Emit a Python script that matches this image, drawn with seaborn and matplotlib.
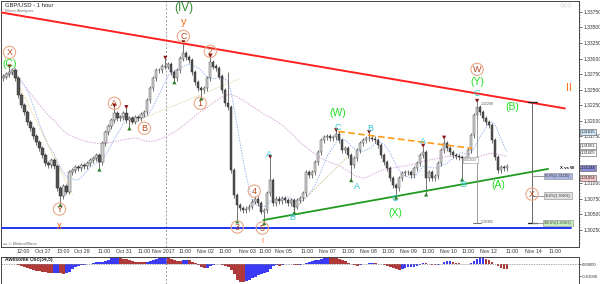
import numpy as np
import pandas as pd
import matplotlib
matplotlib.use("Agg")
import matplotlib.pyplot as plt
import seaborn as sns

# ---------------- data ----------------
closes = [
    1.3271, 1.3275, 1.3278, 1.3281, 1.3268, 1.3241, 1.3225, 1.3214, 1.3198, 1.3188,
    1.3175, 1.3166, 1.3156, 1.3145, 1.3132, 1.3129, 1.3137, 1.3127, 1.3092, 1.3079,
    1.3095, 1.3086, 1.3118, 1.3121, 1.3126, 1.3124, 1.3129, 1.3127, 1.3132, 1.3137,
    1.3140, 1.3145, 1.3134, 1.3164, 1.3182, 1.3191, 1.3201, 1.3212, 1.3204, 1.3206,
    1.3212, 1.3201, 1.3204, 1.3199, 1.3206, 1.3204, 1.3211, 1.3214, 1.3233, 1.3252,
    1.3268, 1.3281, 1.3281, 1.3287, 1.3287, 1.3291, 1.3278, 1.3268, 1.3281, 1.3300,
    1.3308, 1.3302, 1.3297, 1.3278, 1.3262, 1.3252, 1.3249, 1.3252, 1.3268, 1.3294,
    1.3287, 1.3284, 1.3271, 1.3249, 1.3228, 1.3222, 1.3121, 1.3081, 1.3065, 1.3060,
    1.3057, 1.3059, 1.3062, 1.3070, 1.3075, 1.3068, 1.3054, 1.3057, 1.3084, 1.3105,
    1.3068, 1.3075, 1.3071, 1.3076, 1.3073, 1.3068, 1.3073, 1.3062, 1.3073, 1.3076,
    1.3084, 1.3118, 1.3113, 1.3118, 1.3134, 1.3150, 1.3169, 1.3174, 1.3175, 1.3172,
    1.3174, 1.3179, 1.3169, 1.3153, 1.3156, 1.3145, 1.3129, 1.3140, 1.3153, 1.3164,
    1.3169, 1.3172, 1.3172, 1.3171, 1.3169, 1.3161, 1.3145, 1.3134, 1.3124, 1.3108,
    1.3097, 1.3092, 1.3108, 1.3116, 1.3118, 1.3118, 1.3113, 1.3124, 1.3132, 1.3145,
    1.3150, 1.3108, 1.3118, 1.3108, 1.3111, 1.3132, 1.3153, 1.3164, 1.3156, 1.3150,
    1.3145, 1.3143, 1.3142, 1.3140, 1.3137, 1.3153, 1.3177, 1.3209, 1.3222, 1.3214,
    1.3204, 1.3198, 1.3193, 1.3169, 1.3142, 1.3121, 1.3126, 1.3124, 1.3127,
]
first_open = 1.3268

high_spike_idx = [2, 37, 41, 54, 60, 69, 75, 89, 111, 122, 140, 147, 158]
high_spike_val = [1.3285, 1.3222, 1.3220, 1.3299, 1.3324, 1.3302, 1.3278, 1.3140,
                  1.3183, 1.3180, 1.3158, 1.3171, 1.3230]
low_spike_idx = [19, 32, 42, 57, 66, 78, 87, 97, 116, 131, 141, 153, 165]
low_spike_val = [1.3067, 1.3124, 1.3190, 1.3265, 1.3238, 1.3041, 1.3038, 1.3055,
                 1.3107, 1.3079, 1.3084, 1.3108, 1.3116]

swing_high_idx = [2, 37, 41, 54, 60, 69, 89, 111, 122, 140, 147, 158]
swing_low_idx = [19, 32, 42, 57, 66, 78, 87, 97, 116, 131, 141, 153]

red_line_x = [-1, 187.3]
red_line_y = [1.3374, 1.3220]
blue_level = 1.3028
green_line_x = [86.7, 181.7]
green_line_y = [1.3041, 1.3123]
orange_line_x = [111.7, 156.3]
orange_line_y = [1.3183, 1.3156]
guide_yellow = ([4, 23], [1.3268, 1.3081])
guide_tan = ([42.3, 79], [1.3196, 1.3268])
guide_olive = ([96.7, 114.7], [1.3057, 1.3142])

measure_top = 1.32298
measure_bottom = 1.30363
fib_labels = ["61.8%(1.31120)", "78.6%(1.30802)", "100.0%(1.30363)"]
fib_values = [1.31120, 1.30802, 1.30363]

price_ticks = [1.3025, 1.3050, 1.3075, 1.3100, 1.3125, 1.3150, 1.3175, 1.3200,
               1.3225, 1.3250, 1.3275, 1.3300, 1.3325, 1.3350, 1.3375]
hidden_price_ticks = [1.3125, 1.3150]   # covered by the value flags in the reference
date_tick_pos = [6.7, 13, 20, 26, 33.7, 40, 47, 53.3, 60.7, 67.3, 74, 81.3, 87.3, 93.3,
                 101.3, 108, 115, 121.7, 128.3, 135, 141.7, 148.3, 155, 161.7, 169.7,
                 176.7, 184]
date_tick_lab = ["12:00", "Oct 27", "13:00", "Oct 29", "11:00", "Oct 31", "11:00",
                 "Nov 2017", "11:00", "Nov 02", "11:00", "Nov 03", "11:00", "Nov 05",
                 "11:00", "Nov 07", "11:00", "Nov 08", "11:00", "Nov 09", "11:00",
                 "Nov 10", "11:00", "Nov 12", "11:00", "Nov 14", "11:00"]
month_break = 54.3

# right-axis value flags
flag_vals = ["1.31815", "1.31661", "1.31605", "1.31244", "1.31054"]
flag_y = [132, 146, 153, 168, 178]
flag_fc = ["#cfe6f6", "white", "white", "#8a8ad8", "#f4c6c6"]

# ---------------- style ----------------
sns.set_style("white")
plt.rcParams['font.family'] = ['Liberation Sans', 'DejaVu Sans']

W, H = 600, 284
fig = plt.figure(figsize=(6, 2.84), dpi=100)
ax = fig.add_axes([0.5 / W, 1 - 247 / H, 578.5 / W, 246.5 / H])
ax2 = fig.add_axes([0.5 / W, 0.5 / H, 578.5 / W, 26.5 / H])

XL = (-1, 192)
YL = (1.3393 - 247 * 0.00016, 1.3393)
ax.set_xlim(*XL)
ax.set_ylim(*YL)


def P(px, py):
    return (XL[0] + px / 579 * (XL[1] - XL[0]), YL[1] - py / 247 * (YL[1] - YL[0]))


# ---------------- candles ----------------
n = len(closes)
idx = np.arange(n)
c = np.array(closes)
o = np.concatenate([[first_open], c[:-1]])
hi = np.maximum(o, c) + 0.0004
lo = np.minimum(o, c) - 0.0004
for i, v in zip(high_spike_idx, high_spike_val):
    hi[i] = max(hi[i], v)
for i, v in zip(low_spike_idx, low_spike_val):
    lo[i] = min(lo[i], v)

df = pd.DataFrame({"i": idx, "open": o, "close": c, "high": hi, "low": lo})
df["ma_fast"] = df["close"].rolling(8, min_periods=1).mean()
df["ma_slow"] = df["close"].rolling(45, min_periods=1).mean()

# moving averages (dotted)
sns.lineplot(data=df, x="i", y="ma_fast", ax=ax, color="#9fb8f0", lw=0.7,
             linestyle=(0, (1.5, 1.2)), zorder=1)
sns.lineplot(data=df, x="i", y="ma_slow", ax=ax, color="#d9a8d9", lw=0.7,
             linestyle=(0, (1.5, 1.2)), zorder=1)

for (gx, gy), col in [(guide_yellow, "#f0d890"), (guide_tan, "#e0d8a8"), (guide_olive, "#c8c890")]:
    ax.plot(gx, gy, color=col, lw=0.7, linestyle=(0, (1.5, 1.2)), zorder=1)

up = c >= o
ax.vlines(idx, lo, hi, color="#3a3a3a", lw=0.5, zorder=3)
ax.bar(idx[up], (c - o)[up] + 0.00004, bottom=o[up], width=0.75, color="#d4d4d4",
       edgecolor="#3a3a3a", lw=0.3, zorder=4)
ax.bar(idx[~up], (o - c)[~up] + 0.00004, bottom=c[~up], width=0.75, color="#555555",
       edgecolor="#222222", lw=0.3, zorder=4)

# swing markers
sh = df.loc[swing_high_idx]
sl = df.loc[swing_low_idx]
sns.scatterplot(x=sh["i"], y=sh["high"] + 0.0002, marker="v", color="#8b1a1a", s=9,
                edgecolor="none", ax=ax, zorder=6)
sns.scatterplot(x=sl["i"], y=sl["low"] - 0.0002, marker="^", color="#2e7d2e", s=9,
                edgecolor="none", ax=ax, zorder=6)

# trend lines
ax.plot(red_line_x, red_line_y, color="#ff2020", lw=1.4, zorder=5)
ax.plot([XL[0], 189.3], [blue_level, blue_level], color="#1f35f0", lw=1.4, zorder=5)
ax.plot(green_line_x, green_line_y, color="#1f9a1f", lw=1.3, zorder=5)
ax.plot(orange_line_x, orange_line_y, color="#ff9a1a", lw=1.2, dashes=(4, 2), zorder=5)
ax.axvline(month_break, color="#999999", lw=0.7, ls=(0, (2, 2)), zorder=0)

# measuring tools
mx1 = P(477, 0)[0]
ax.plot([mx1, mx1], [measure_top, measure_bottom], color="#8a8a8a", lw=0.6, zorder=5)
ax.plot([mx1 - 1.3, mx1 + 1.3], [measure_bottom, measure_bottom], color="#555", lw=0.6)
ax.text(mx1 + 1.2, measure_top - 0.0003, "1.32298", fontsize=2.5, color="#555", va="center")
ax.text(mx1 + 1.2, measure_bottom + 0.0002, "1.30365", fontsize=2.5, color="#555", va="center")
bx, by = P(470, 160)
ax.text(bx, by, "0.01933", fontsize=2.5, color="#666", ha="center", va="center",
        bbox=dict(boxstyle="square,pad=0.3", fc="white", ec="#999", lw=0.4), zorder=7)

mx2 = P(532, 0)[0]
ax.plot([mx2, mx2], [measure_top, measure_bottom], color="#666666", lw=0.7, zorder=5)
for yv in (measure_top, measure_bottom):
    ax.plot([mx2 - 1.5, mx2 + 1.5], [yv, yv], color="#222", lw=0.9, zorder=5)
fx0, _ = P(548, 0)
for lab, val in zip(fib_labels, fib_values):
    ax.plot([mx2, fx0], [val, val], color="#888", lw=0.6, zorder=5)
    ax.text(P(558, 0)[0], val, lab, fontsize=2.6, color="#333", ha="center", va="center",
            bbox=dict(boxstyle="square,pad=0.35",
                      fc={"61.8": "#aeb6e2", "78.6": "#e2e2e2", "100.": "#c9efc0"}[lab[:4]],
                      ec="#888", lw=0.4), zorder=7)
tx, ty = P(567, 168)
ax.text(tx, ty, "X vs W", fontsize=3.2, fontweight="bold", color="#111", ha="center", va="center")

# ---------------- wave labels ----------------
circ_col = "#b54a1f"
circled = [("X", 9, 52), ("C", 183, 36), ("2", 210, 51), ("A", 114, 103), ("B", 144, 128),
           ("1", 200, 103), ("Y", 59, 209), ("4", 254, 191), ("3", 237, 227), ("5", 262, 228),
           ("W", 477, 69), ("X", 532, 194)]
for t, px, py in circled:
    x, y = P(px, py)
    ax.text(x, y, t, fontsize=6.5, color=circ_col, ha="center", va="center", zorder=8,
            bbox=dict(boxstyle="circle,pad=0.18", fc="none", ec="#e8a888", lw=0.8))

for t, px, py in [("(C)", 9, 64), ("(W)", 338, 113), ("(X)", 395, 213), ("(Y)", 477, 82),
                  ("(B)", 512, 107), ("(A)", 498, 185)]:
    x, y = P(px, py)
    ax.text(x, y, t, fontsize=7.5, color="#22dd22", ha="center", va="center", zorder=8)
x, y = P(183, 8)
ax.text(x, y, "(IV)", fontsize=8.5, color="#2e8b2e", ha="center", va="center", zorder=8)
for t, px, py, fs in [("y", 183, 22, 8), ("x", 59, 226, 7), ("II", 569, 88, 7.5), ("I", 262, 241, 5)]:
    x, y = P(px, py)
    ax.text(x, y, t, fontsize=fs, color="#ff6a10", ha="center", va="center", zorder=8)
for t, px, py in [("A", 269, 154), ("B", 292, 217), ("C", 338, 127), ("B", 370, 128),
                  ("A", 357, 186), ("C", 395, 198), ("A", 423, 141), ("B", 463, 184),
                  ("C", 477, 93)]:
    x, y = P(px, py)
    ax.text(x, y, t, fontsize=6.5, color="#33c8d0", ha="center", va="center", zorder=8)

# header texts
ax.text(*P(5, 5), "GBP/USD - 1 hour", fontsize=4.2, color="#222", va="center", ha="left")
ax.text(*P(5, 11), "Wave Analysis", fontsize=3.2, color="#777", va="center", ha="left")
ax.text(*P(566, 5), "◇◇◇", fontsize=4, color="#aaa", va="center", ha="center")
ax.text(*P(3, 243), "▭ ◇ MotiveWave", fontsize=3.2, color="#666", va="center", ha="left")

# ---------------- axes styling ----------------
ax.yaxis.tick_right()
ax.set_yticks(price_ticks)
ax.set_yticklabels(["" if v in hidden_price_ticks else f"{v:.5f}" for v in price_ticks])
ax.set_yticks(np.arange(1.3005, 1.3390, 0.0005), minor=True)
ax.tick_params(axis="y", which="major", labelsize=3.6, length=2, width=0.5, pad=1,
               colors="#333", direction="out")
ax.tick_params(axis="y", which="minor", length=1, width=0.4, colors="#555")
ax.set_xticks(date_tick_pos)
ax.set_xticklabels(date_tick_lab)
ax.tick_params(axis="x", labelsize=3.8, length=2, width=0.5, pad=1.5, direction="in",
               colors="#333")
ax.set_xlabel("")
ax.set_ylabel("")
for s in ax.spines.values():
    s.set_color("#444")
    s.set_linewidth(0.7)

for lab, py, fc in zip(flag_vals, flag_y, flag_fc):
    fig.text(581 / W, 1 - py / H, lab, fontsize=3.0, color="#222", ha="left", va="center",
             bbox=dict(boxstyle="square,pad=0.2", fc=fc, ec="#555", lw=0.4))

# ---------------- awesome oscillator ----------------
med = (df["high"] + df["low"]) / 2
df["ao"] = med.rolling(3, min_periods=1).mean() - med.rolling(18, min_periods=1).mean()
rising = df["ao"].diff().fillna(0) >= 0
ax2.bar(df["i"], df["ao"], width=0.9, color=np.where(rising, "#3b3bf5", "#b03a3a"),
        edgecolor="none")
ax2.axhline(0, color="#888", lw=0.5, ls=(0, (2, 1.5)))
ax2.axvline(month_break, color="#999999", lw=0.7, ls=(0, (2, 2)))
ax2.set_xlim(*XL)
ax2.set_ylim(-0.0165, 0.0065)
ax2.yaxis.tick_right()
ax2.set_yticks([0.0, -0.01])
ax2.set_yticklabels(["0.00000", "-0.01000"])
ax2.tick_params(axis="y", labelsize=3.1, length=1.5, width=0.5, pad=0.5, colors="#333")
ax2.set_xticks([])
for s in ax2.spines.values():
    s.set_color("#444")
    s.set_linewidth(0.7)
ax2.text(0.5, 0.0045, "Awesome Osc(34,5)", fontsize=3.6, fontweight="bold", color="#222",
         va="center", ha="left")

fig.savefig("out.png", dpi=100)
